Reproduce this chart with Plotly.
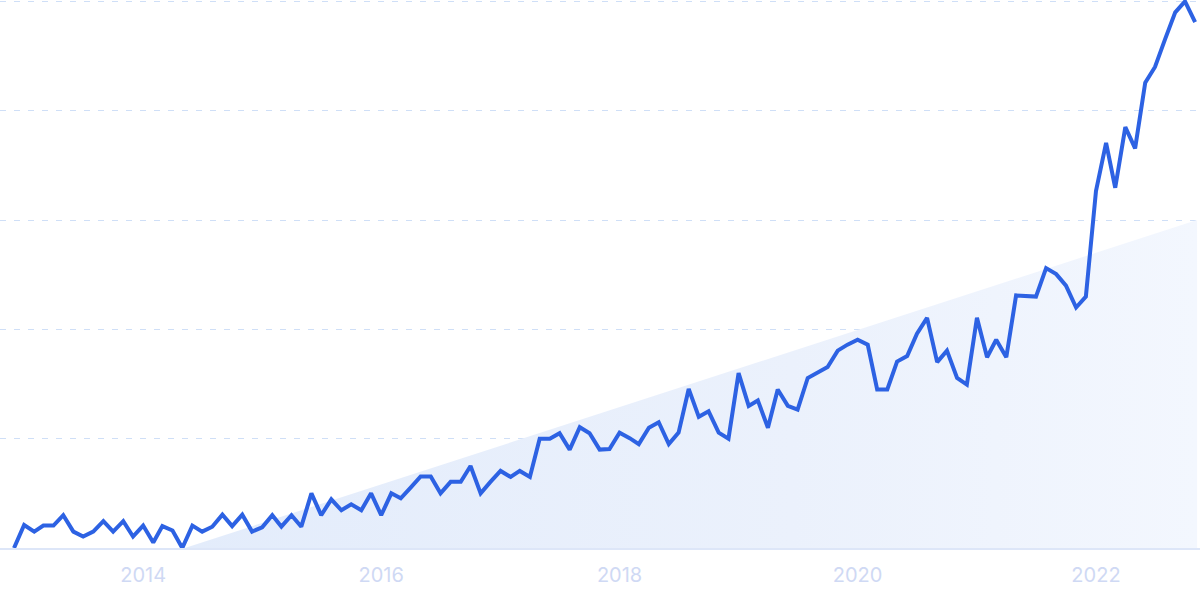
import pandas as pd
import plotly.graph_objects as go

# Monthly interest values (0-100 scale), Dec 2012 .. Nov 2022
start_month = "2012-12-01"
values = [
    0, 4.2, 3.0, 4.1, 4.1, 6.0, 3.0, 2.1, 3.0, 4.9, 3.0, 4.9, 2.1, 4.1, 1.0, 4.0, 3.2, 0, 4.1,
    3.0, 3.9, 6.1, 4.0, 6.1, 3.0, 3.8, 6.0, 3.9, 6.0, 3.9, 10.0, 6.0, 8.9, 6.9, 8.0, 6.9, 10.0, 6.0, 10.0, 9.1,
    11.1, 13.1, 13.1, 10.0, 12.1, 12.1, 15.0, 10.0, 12.1, 14.1, 13.0, 14.1, 13.0, 20.0, 20.0, 21.0, 18.0, 22.1, 21.0, 18.0,
    18.1, 21.1, 20.1, 19.0, 22.0, 23.0, 19.0, 21.1, 29.1, 24.0, 25.0, 21.1, 20.0, 32.0, 26.0, 27.0, 22.0, 29.0, 26.0, 25.3,
    31.1, 32.1, 33.1, 36.1, 37.2, 38.1, 37.2, 29.0, 29.0, 34.1, 35.1, 39.2, 42.1, 34.0, 36.1, 31.1, 29.9, 42.1, 34.9, 38.1,
    34.9, 46.2, 46.1, 46.0, 51.2, 50.1, 48.0, 44.0, 46.0, 65.3, 74.1, 65.9, 77.0, 73.1, 85.1, 88.0, 93.1, 98.0, 100, 96.2,
]
dates = pd.date_range(start_month, periods=len(values), freq="MS")

# Trend (shaded area) endpoints
trend_x = ["2014-05-09", "2022-11-07"]
trend_y = [0, 60]

tick_years = ["2014-01-01", "2016-01-01", "2018-01-01", "2020-01-01", "2022-01-01"]
tick_labels = ["2014", "2016", "2018", "2020", "2022"]

fig = go.Figure()
fig.add_trace(go.Scatter(
    x=trend_x, y=trend_y, mode="lines", line=dict(width=0),
    fill="tozeroy",
    fillgradient=dict(type="horizontal",
                      colorscale=[[0, "#e3ecfb"], [0.6, "#ebf1fc"], [1, "#f3f7fe"]]),
    hoverinfo="skip", showlegend=False,
))
fig.add_trace(go.Scatter(
    x=dates, y=values, mode="lines",
    line=dict(color="#2d62e3", width=4),
    showlegend=False,
))

fig.update_layout(
    width=1200, height=600,
    margin=dict(l=0, r=0, t=0, b=52),
    paper_bgcolor="white", plot_bgcolor="white",
    font=dict(family="Inter, Noto Sans, sans-serif"),
)
fig.update_xaxes(
    type="date",
    range=["2012-10-19", "2022-11-16"],
    tickvals=tick_years, ticktext=tick_labels,
    showgrid=False, zeroline=False,
    showline=True, linecolor="#dde6f8", linewidth=2,
    ticks="outside", ticklen=8, tickcolor="rgba(0,0,0,0)",
    tickfont=dict(size=20, color="#cfd9f4"),
)
fig.update_yaxes(
    range=[0, 100.25], dtick=20,
    showgrid=True, gridcolor="#cfdff7", gridwidth=1, griddash="6px,8px",
    zeroline=False, showticklabels=False,
)

fig.write_html(
    "out.html",
    config={"displayModeBar": False},
    post_script="document.body.style.margin='0';document.body.style.overflow='hidden';",
)
